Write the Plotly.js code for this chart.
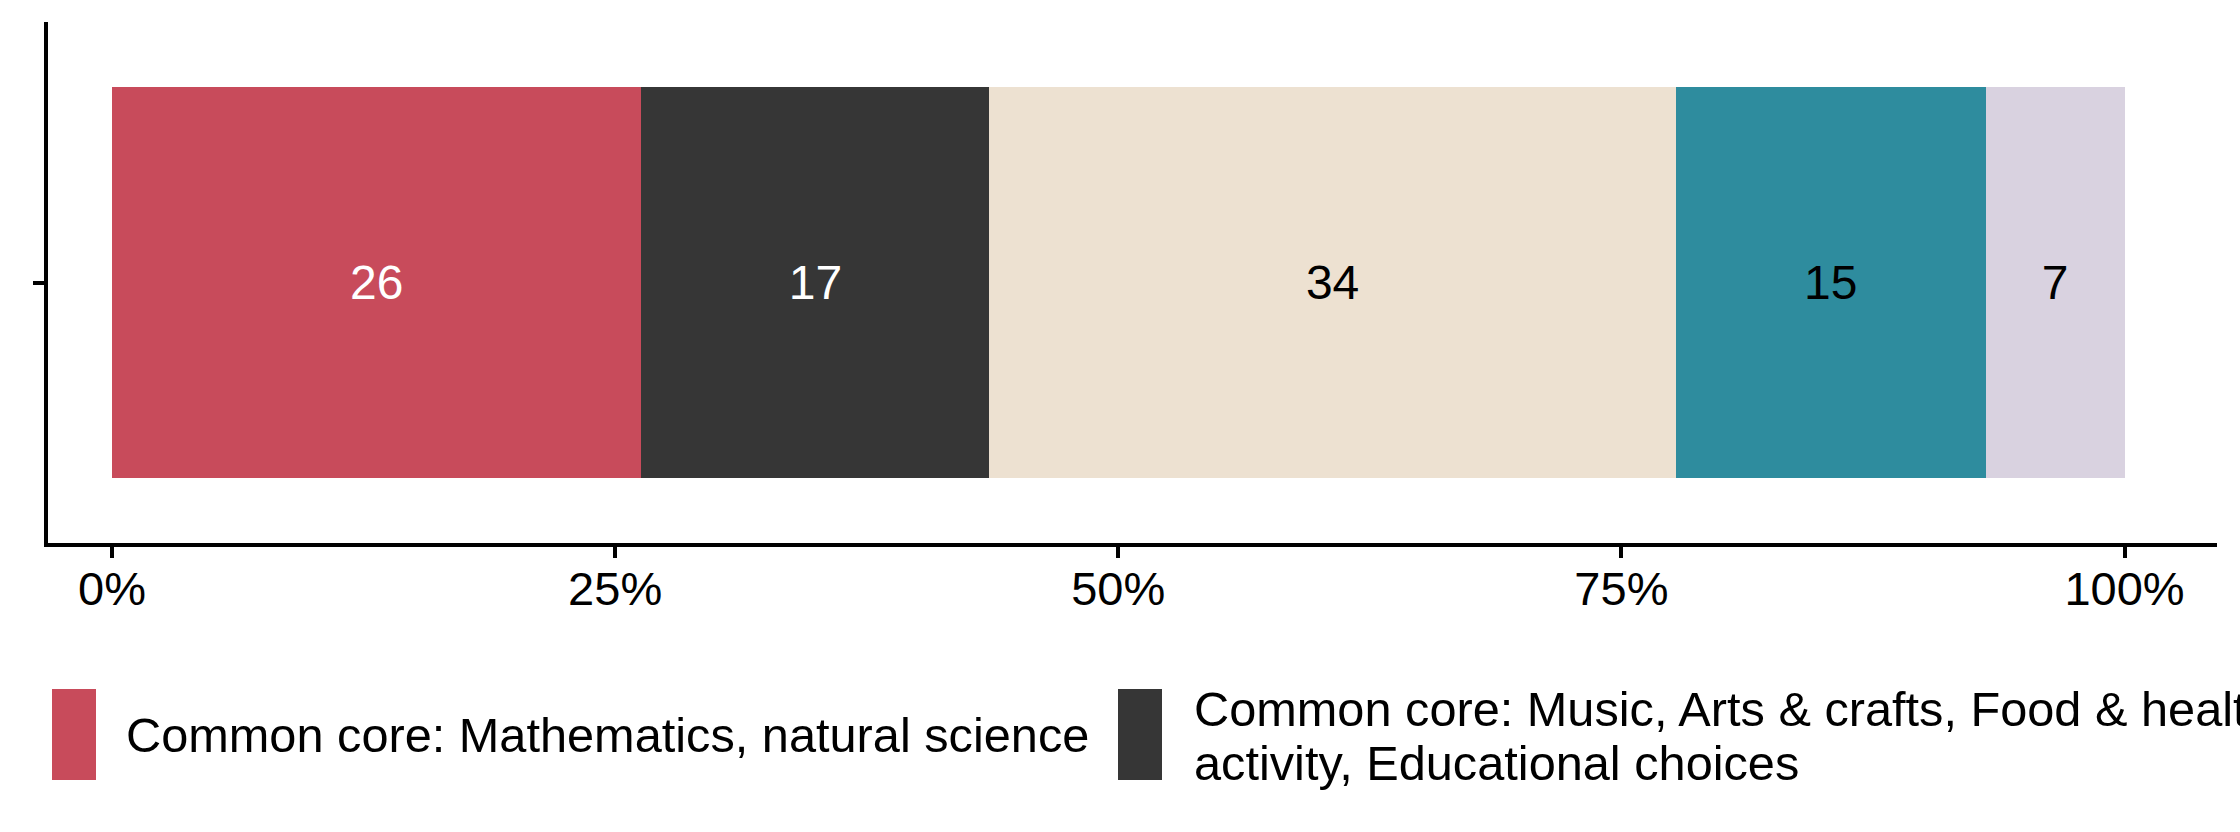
<!DOCTYPE html>
<html><head><meta charset="utf-8">
<script src="https://cdn.plot.ly/plotly-3.0.1.min.js"></script>
<style>html,body{margin:0;padding:0;background:#fff}#chart{width:2240px;height:832px}</style>
</head><body><div id="chart"></div>
<script>
// ---- data ----
const seriesNames = [
  "Common core: Mathematics, natural science",
  "Common core: Music, Arts & crafts, Food & health, Physical activity, Educational choices",
  "Category 3",
  "Category 4",
  "Category 5"
];
const legendLines = [
  ["Common core: Mathematics, natural science"],
  ["Common core: Music, Arts & crafts, Food & health, Physical", "activity, Educational choices"]
];
const shares = [26.3, 17.3, 34.1, 15.4, 6.9];
const barColors = ["#C84B5B", "#363636", "#EDE1D1", "#2E8C9E", "#D9D2E0"];
const labelColors = ["#FFFFFF", "#FFFFFF", "#000000", "#000000", "#000000"];
const tickVals = [0, 0.25, 0.5, 0.75, 1];
const tickLabels = ["0%", "25%", "50%", "75%", "100%"];
const rowCategory = ["all"];

// ---- layout geometry (pixels) ----
const W = 2240, H = 832;
const L = 48, R = 2217, T = 22, B = 543;
const zeroPx = 112, onePx = 2124.5;
const FONT = "Liberation Sans, Arial, Helvetica, sans-serif";
const px2x = p => (p - L) / (R - L);
const py2y = p => (B - p) / (B - T);
const unit = onePx - zeroPx;

const traces = shares.map((v, i) => ({
  type: "bar",
  orientation: "h",
  y: rowCategory,
  x: [v],
  name: seriesNames[i],
  width: 0.9,
  marker: { color: barColors[i], line: { width: 0 } },
  text: [String(Math.round(v))],
  textposition: "inside",
  insidetextanchor: "middle",
  constraintext: "none",
  textangle: 0,
  textfont: { family: FONT, size: 48, color: labelColors[i] },
  showlegend: false,
  hoverinfo: "name+text"
}));

// legend drawn as shapes + text
const keys = [
  { x0: 52, x1: 96, textX: 124, centers: [735] },
  { x0: 1118, x1: 1162, textX: 1192, centers: [709, 763] }
];
const shapes = [];
const annotations = [];
keys.forEach((k, i) => {
  shapes.push({
    type: "rect", xref: "paper", yref: "paper",
    x0: px2x(k.x0), x1: px2x(k.x1), y0: py2y(780), y1: py2y(689),
    fillcolor: barColors[i], line: { width: 0 }
  });
  legendLines[i].forEach((line, j) => {
    annotations.push({
      xref: "paper", yref: "paper",
      x: px2x(k.textX), y: py2y(k.centers[j]),
      xanchor: "left", yanchor: "middle",
      text: line, showarrow: false,
      font: { family: FONT, size: 48.7, color: "#000" }
    });
  });
});

const layout = {
  width: W, height: H,
  margin: { l: L, r: W - R, t: T, b: H - B, pad: 0 },
  paper_bgcolor: "#fff", plot_bgcolor: "#fff",
  barmode: "stack", barnorm: "fraction",
  showlegend: false,
  font: { family: FONT, color: "#000" },
  xaxis: {
    range: [(L - zeroPx) / unit, (R - zeroPx) / unit],
    tickvals: tickVals, ticktext: tickLabels,
    ticks: "outside", ticklen: 11, tickwidth: 4, tickcolor: "#000",
    ticklabelstandoff: -9,
    showline: true, linewidth: 4, linecolor: "#000",
    showgrid: false, zeroline: false,
    tickfont: { family: FONT, size: 47, color: "#000" },
    fixedrange: true
  },
  yaxis: {
    type: "category",
    range: [-0.6, 0.6],
    ticks: "outside", ticklen: 11, tickwidth: 4, tickcolor: "#000",
    showticklabels: false,
    showline: true, linewidth: 4, linecolor: "#000",
    showgrid: false, zeroline: false, fixedrange: true
  },
  shapes: shapes,
  annotations: annotations
};

Plotly.newPlot("chart", traces, layout, { displayModeBar: false, staticPlot: true });
</script>
</body></html>
